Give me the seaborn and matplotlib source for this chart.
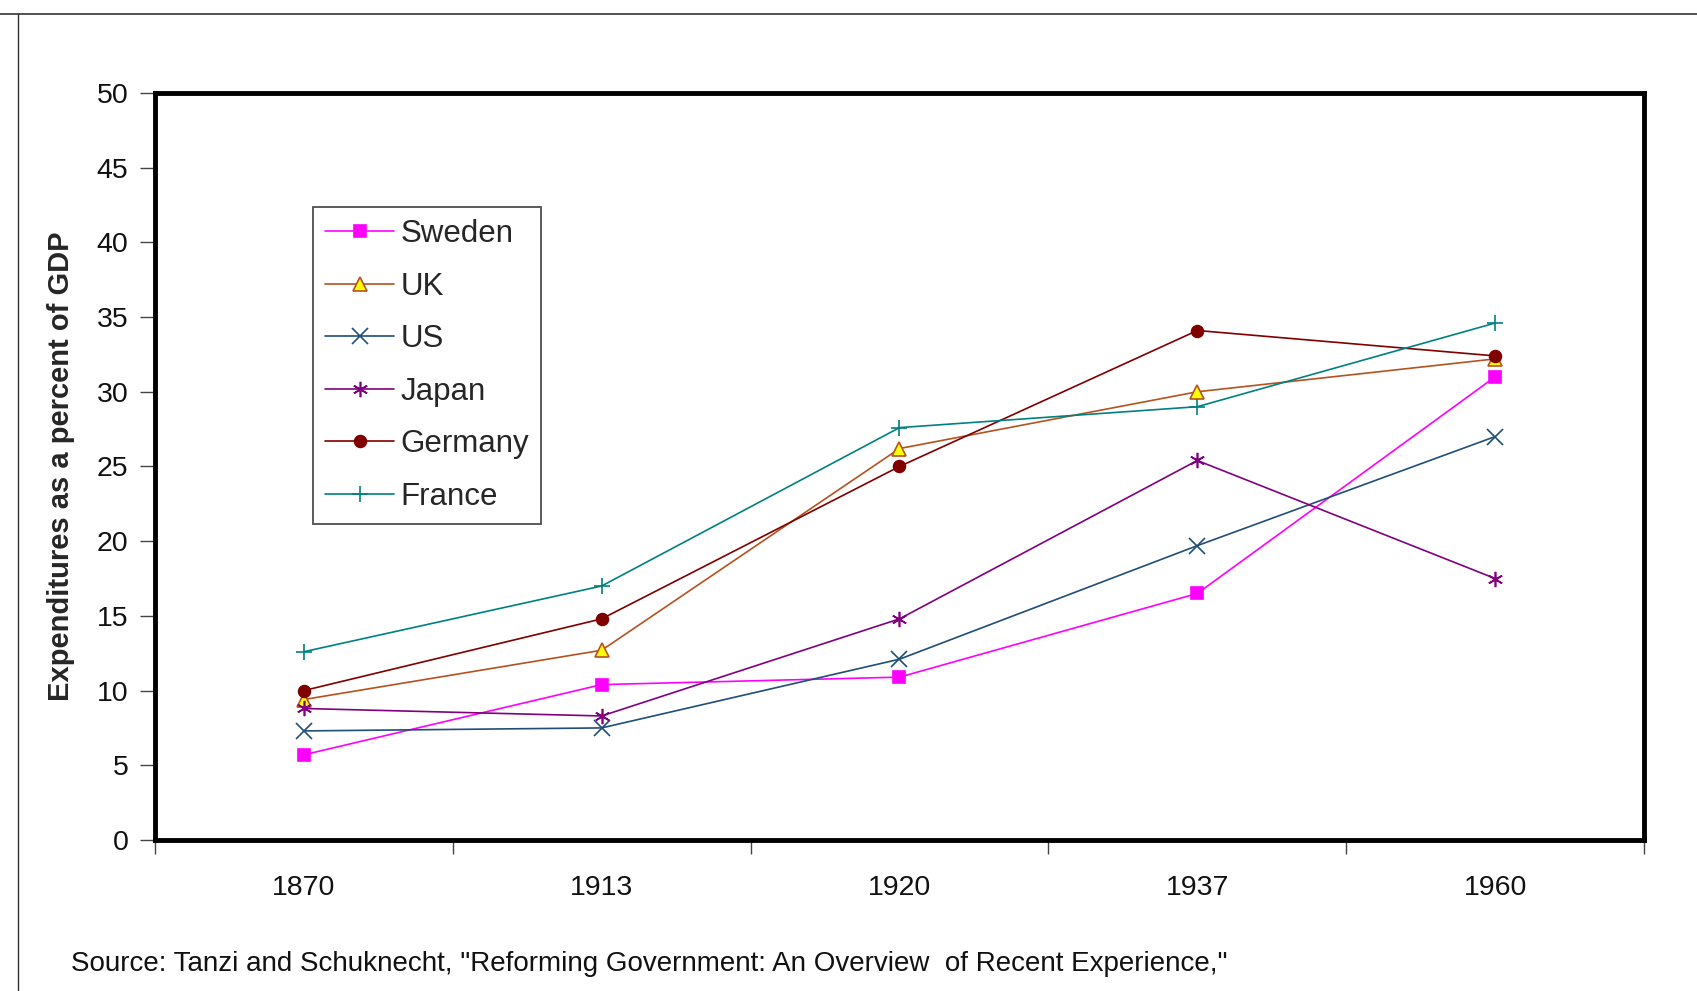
import matplotlib
matplotlib.use("Agg")
import matplotlib.pyplot as plt
from matplotlib.lines import Line2D
import numpy as np
import pandas as pd
import seaborn as sns

# Government expenditures as a percent of GDP
years = ["1870", "1913", "1920", "1937", "1960"]
sweden = [5.7, 10.4, 10.9, 16.5, 31.0]
uk = [9.4, 12.7, 26.2, 30.0, 32.2]
us = [7.3, 7.5, 12.1, 19.7, 27.0]
japan = [8.8, 8.3, 14.8, 25.4, 17.5]
germany = [10.0, 14.8, 25.0, 34.1, 32.4]
france = [12.6, 17.0, 27.6, 29.0, 34.6]

countries = ["Sweden", "UK", "US", "Japan", "Germany", "France"]
series = [sweden, uk, us, japan, germany, france]

rows = []
for name, vals in zip(countries, series):
    for i, (yr, v) in enumerate(zip(years, vals)):
        rows.append({"country": name, "pos": i, "year": yr, "value": v})
df = pd.DataFrame(rows)

sns.set_theme(style="white")
plt.rcParams["font.family"] = ["Liberation Sans", "DejaVu Sans"]

palette = {
    "Sweden": "#FF00FF",
    "UK": "#B5521F",
    "US": "#1F4E79",
    "Japan": "#800080",
    "Germany": "#800000",
    "France": "#008080",
}
markers = {
    "Sweden": "s",
    "UK": "^",
    "US": "x",
    "Japan": (6, 2, 0),
    "Germany": "o",
    "France": "+",
}
sizes = {"Sweden": 8, "UK": 10.5, "US": 11, "Japan": 11, "Germany": 8.5, "France": 12}

fig = plt.figure(figsize=(16.97, 9.91), dpi=100)
ax = fig.add_axes([0.0913, 0.1524, 0.8775, 0.7538])

handles = []
for name in countries:
    sub = df[df["country"] == name]
    col = palette[name]
    face = "#FFFF00" if name == "UK" else col
    sns.lineplot(
        data=sub, x="pos", y="value", color=col, marker=markers[name],
        markersize=sizes[name], markerfacecolor=face, markeredgecolor=col,
        markeredgewidth=1.2, linewidth=1.2, label=name, legend=False, ax=ax,
    )
    handles.append(ax.get_lines()[-1])

ax.set_xlim(-0.5, 4.5)
ax.set_ylim(0, 50)
ax.set_yticks(np.arange(0, 51, 5))
ax.tick_params(axis="y", which="major", direction="out", length=11, width=1,
               color="#444444", labelsize=20.5, pad=8, left=True,
               labelcolor="#111111")

# category boundaries carry the tick marks, category centres carry the labels
ax.set_xticks(np.arange(-0.5, 4.6, 1.0))
ax.set_xticklabels([])
ax.set_xticks(np.arange(0, 5), minor=True)
ax.set_xticklabels(years, minor=True)
ax.tick_params(axis="x", which="major", direction="out", length=10, width=1,
               color="#444444", bottom=True)
ax.tick_params(axis="x", which="minor", length=0, labelsize=20.5, pad=25,
               labelcolor="#111111")

ax.set_xlabel("")
ax.set_ylabel("Expenditures as a percent of GDP", fontsize=21,
              fontweight="bold", labelpad=16)

for s in ax.spines.values():
    s.set_visible(True)
    s.set_color("black")
    s.set_linewidth(3.5)
ax.grid(False)

leg = ax.legend(
    handles=handles, labels=countries, loc="upper left",
    bbox_to_anchor=(0.106, 0.848), borderaxespad=0, fontsize=22.5,
    frameon=True, fancybox=False, edgecolor="#222222", handlelength=2.2,
    handletextpad=0.2, labelspacing=0.72, borderpad=0.4,
)
leg.get_frame().set_linewidth(1.3)

fig.text(0.042, 0.027,
         "Source: Tanzi and Schuknecht, \"Reforming Government: An Overview  of Recent Experience,\"",
         fontsize=20, ha="left", va="center", color="#111111")

# slide frame lines
fig.add_artist(Line2D([0, 1], [0.986, 0.986], transform=fig.transFigure,
                      color="#333333", linewidth=1.2))
fig.add_artist(Line2D([0.0106, 0.0106], [0, 0.986], transform=fig.transFigure,
                      color="#333333", linewidth=1.0))

fig.savefig("out.png", dpi=100)
